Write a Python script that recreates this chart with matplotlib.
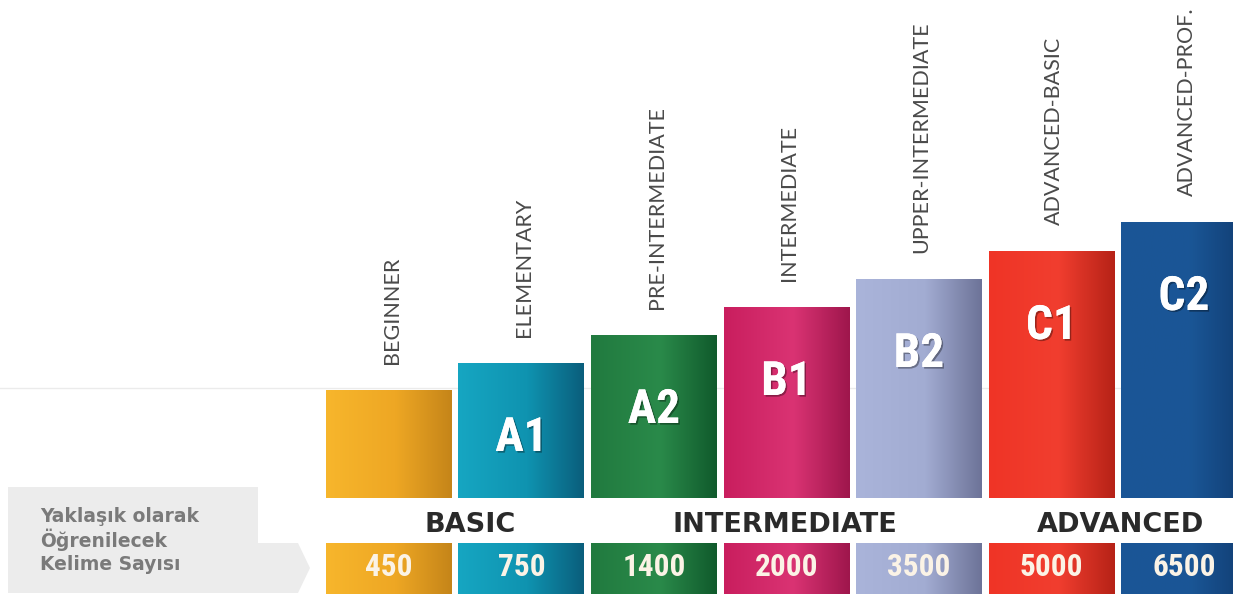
import numpy as np
import matplotlib
matplotlib.use("Agg")
import matplotlib.pyplot as plt
from matplotlib.colors import LinearSegmentedColormap
from matplotlib import font_manager as fm
from matplotlib.patches import Polygon
import matplotlib.patheffects as pe

# ---------------- data ----------------
categories = ["BEGINNER", "ELEMENTARY", "PRE-INTERMEDIATE", "INTERMEDIATE",
              "UPPER-INTERMEDIATE", "ADVANCED-BASIC", "ADVANCED-PROF."]
codes = ["", "A1", "A2", "B1", "B2", "C1", "C2"]
word_counts = [450, 750, 1400, 2000, 3500, 5000, 6500]
bar_heights = [108, 135, 163, 191, 219, 247, 276]   # stepped heights (display units)
groups = ["BASIC", "INTERMEDIATE", "ADVANCED"]
group_pos = [0.61, 2.99, 5.52]
side_label = ["Yaklaşık olarak", "Öğrenilecek", "Kelime Sayısı"]

colors = [
    ["#F7B62C", "#EEA724", "#C58519"],
    ["#16A6C2", "#0F93B0", "#0A5E7C"],
    ["#217A3F", "#2A8A4A", "#105A2C"],
    ["#C91E5E", "#DA3373", "#9E164C"],
    ["#AAB4DA", "#A2ACD2", "#6D7398"],
    ["#EF3426", "#F13E2F", "#B62217"],
    ["#1B5596", "#1A5696", "#113D72"],
]


# ---------------- fonts ----------------
def find_condensed_bold():
    cands = []
    for f in fm.fontManager.ttflist:
        fn = f.fname.lower()
        is_cond = ("condensed" in fn or "narrow" in fn or
                   str(f.stretch) in ("condensed", "semi-condensed", "extra-condensed"))
        if is_cond and "italic" not in fn and "oblique" not in fn:
            w = f.weight if isinstance(f.weight, int) else 400
            score = -abs(w - 700)
            cands.append((score, f.fname))
    if cands:
        cands.sort(reverse=True)
        return fm.FontProperties(fname=cands[0][1])
    return fm.FontProperties(family="DejaVu Sans", weight="bold")


cond_fp = find_condensed_bold()
names = {f.name for f in fm.fontManager.ttflist}
thin_family = "Lato" if "Lato" in names else "DejaVu Sans"

W, H = 1233, 594
fig = plt.figure(figsize=(W / 100, H / 100), dpi=100)
ax = fig.add_axes([0, 0, 1, 1])
ax.set_axis_off()
# x in category units (pitch 132.5 px, first centre at 389 px); y baseline at 498 px
ax.set_xlim(-389 / 132.5, (W - 389) / 132.5)
ax.set_ylim(-(H - 498), 498)

x = np.arange(len(categories))
width = 126 / 132.5

# faint horizontal line on the left
ax.axhline(110, color="#ebebeb", lw=1, zorder=0)

grad = np.linspace(0, 1, 256).reshape(1, -1)


def fill_gradient(patch, cols):
    cmap = LinearSegmentedColormap.from_list("g", [(0, cols[0]), (0.55, cols[1]), (1, cols[2])])
    bx, by = patch.get_x(), patch.get_y()
    bw, bh = patch.get_width(), patch.get_height()
    im = ax.imshow(grad, cmap=cmap, extent=[bx, bx + bw, by, by + bh],
                   aspect="auto", zorder=2, interpolation="bicubic")
    im.set_clip_path(patch)


# main bars
bars = ax.bar(x, bar_heights, width=width, bottom=0, color="none", zorder=1)
for b, c in zip(bars, colors):
    fill_gradient(b, c)

# bottom strip bars
strip_bottom, strip_h = -(H - 498), 51
strips = ax.bar(x, [strip_h] * len(x), width=width, bottom=strip_bottom, color="none", zorder=1)
for b, c in zip(strips, colors):
    fill_gradient(b, c)

shadow = [pe.withSimplePatchShadow(offset=(1.2, -1.2), shadow_rgbFace="#000000", alpha=0.35), pe.Normal()]

# code labels
for xi, h, code in zip(x, bar_heights, codes):
    if code:
        fp = cond_fp.copy()
        fp.set_size(34)
        ax.text(xi, h - 75, code, ha="center", va="center", color="white",
                fontproperties=fp, zorder=5, path_effects=shadow)

# word counts
for xi, n in zip(x, word_counts):
    fp = cond_fp.copy()
    fp.set_size(22.5)
    ax.text(xi, strip_bottom + strip_h / 2 + 1, str(n), ha="center", va="center",
            color="#fbf3e6", fontproperties=fp, zorder=5)

# category labels (rotated)
for xi, h, cat in zip(x, bar_heights, categories):
    ax.text(xi + 0.02, h + 26, cat, rotation=90, ha="center", va="bottom",
            color="#4a4a4a", fontsize=15.5, family=thin_family, zorder=5)

# group labels
for gp, g in zip(group_pos, groups):
    ax.text(gp, -27, g, ha="center", va="center", color="#2a2a2a",
            fontsize=19.5, fontweight="heavy", family="DejaVu Sans", zorder=5)

# left grey panel with arrow
pts = [(8, 487), (258, 487), (258, 543), (298, 543), (310, 568), (298, 593), (8, 593)]
poly = Polygon([(px / W, 1 - py / H) for px, py in pts], closed=True,
               transform=fig.transFigure, facecolor="#ececec", edgecolor="none", zorder=0)
fig.patches.append(poly)
for i, line in enumerate(side_label):
    fig.text(40 / W, 1 - (516 + 24 * i) / H, line, ha="left", va="center",
             color="#7a7a7a", fontsize=13.5, fontweight="bold", family="DejaVu Sans")

fig.savefig("out.png", dpi=100, facecolor="white")
